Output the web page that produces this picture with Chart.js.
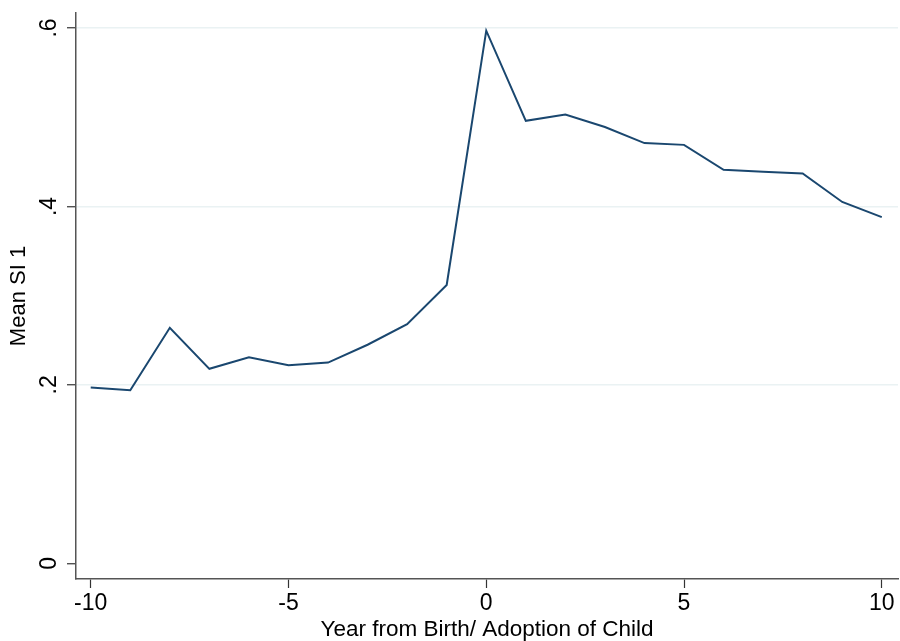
<!DOCTYPE html>
<html>
<head>
<meta charset="utf-8">
<title>Mean SI 1</title>
<script src="https://cdn.jsdelivr.net/npm/chart.js@4.4.1/dist/chart.umd.min.js"></script>
<style>
  html, body { margin: 0; padding: 0; background: #ffffff; }
  #wrap { width: 900px; height: 641px; }
</style>
</head>
<body>
<div id="wrap"><canvas id="chart" width="900" height="641"></canvas></div>
<script>
// datos
const years = [-10, -9, -8, -7, -6, -5, -4, -3, -2, -1, 0, 1, 2, 3, 4, 5, 6, 7, 8, 9, 10];
const meanSI1 = [0.197, 0.194, 0.264, 0.218, 0.231, 0.222, 0.225, 0.245, 0.268, 0.312,
                 0.597, 0.496, 0.503, 0.489, 0.471, 0.469, 0.441, 0.439, 0.437, 0.405, 0.388];
const xTicks = [-10, -5, 0, 5, 10];
const yTicks = [0, 0.2, 0.4, 0.6];
const yTickLabels = ['0', '.2', '.4', '.6'];

const points = years.map((yr, i) => ({ x: yr, y: meanSI1[i] }));

const FONT = '"Liberation Sans", Arial, Helvetica, sans-serif';
const axisColor = '#555555';
const tickColor = '#333333';
const gridColor = '#eaf2f3';

// quitar el padding automatico que Chart.js agrega por las etiquetas
function noPadding(scale) {
  scale.paddingTop = 0;
  scale.paddingBottom = 0;
  scale.paddingLeft = 0;
  scale.paddingRight = 0;
}

new Chart(document.getElementById('chart'), {
  type: 'line',
  data: {
    datasets: [{
      label: 'Mean SI 1',
      data: points,
      borderColor: '#1a476f',
      borderWidth: 2,
      pointRadius: 0,
      tension: 0,
      fill: false
    }]
  },
  options: {
    responsive: false,
    animation: false,
    layout: { padding: { top: 13, right: 2, bottom: 0, left: 0 } },
    plugins: {
      legend: { display: false },
      tooltip: { enabled: false }
    },
    scales: {
      x: {
        type: 'linear',
        min: -10.372,
        max: 10.41,
        afterBuildTicks: (scale) => { scale.ticks = xTicks.map(v => ({ value: v })); },
        afterFit: (scale) => { scale.height = 62; noPadding(scale); },
        ticks: {
          color: '#000000',
          font: { family: FONT, size: 23 },
          padding: 2,
          maxRotation: 0,
          callback: (v) => String(v)
        },
        grid: {
          drawOnChartArea: false,
          tickLength: 9,
          tickColor: tickColor,
          tickWidth: 1.2
        },
        border: { color: axisColor, width: 1.5 },
        title: {
          display: true,
          text: 'Year from Birth/ Adoption of Child',
          color: '#000000',
          font: { family: FONT, size: 22.5, lineHeight: 1 },
          padding: { top: 0, bottom: 0 }
        }
      },
      y: {
        type: 'linear',
        min: -0.01755,
        max: 0.6168,
        afterBuildTicks: (scale) => { scale.ticks = yTicks.map(v => ({ value: v })); },
        afterFit: (scale) => { scale.width = 76; noPadding(scale); },
        ticks: {
          color: '#000000',
          font: { family: FONT, size: 23 },
          padding: 8,
          minRotation: 90,
          maxRotation: 90,
          crossAlign: 'center',
          callback: (v) => {
            const i = yTicks.indexOf(v);
            return i >= 0 ? yTickLabels[i] : '';
          }
        },
        grid: {
          color: (ctx) => (ctx.tick && ctx.tick.value === 0 ? 'rgba(0,0,0,0)' : gridColor),
          lineWidth: 1.5,
          tickLength: 9,
          tickColor: tickColor,
          tickWidth: 1.2
        },
        border: { color: axisColor, width: 1.5 },
        title: {
          display: true,
          text: 'Mean SI 1',
          color: '#000000',
          font: { family: FONT, size: 22, lineHeight: 1.2 },
          padding: { top: 6, bottom: 0 }
        }
      }
    }
  }
});
</script>
</body>
</html>
